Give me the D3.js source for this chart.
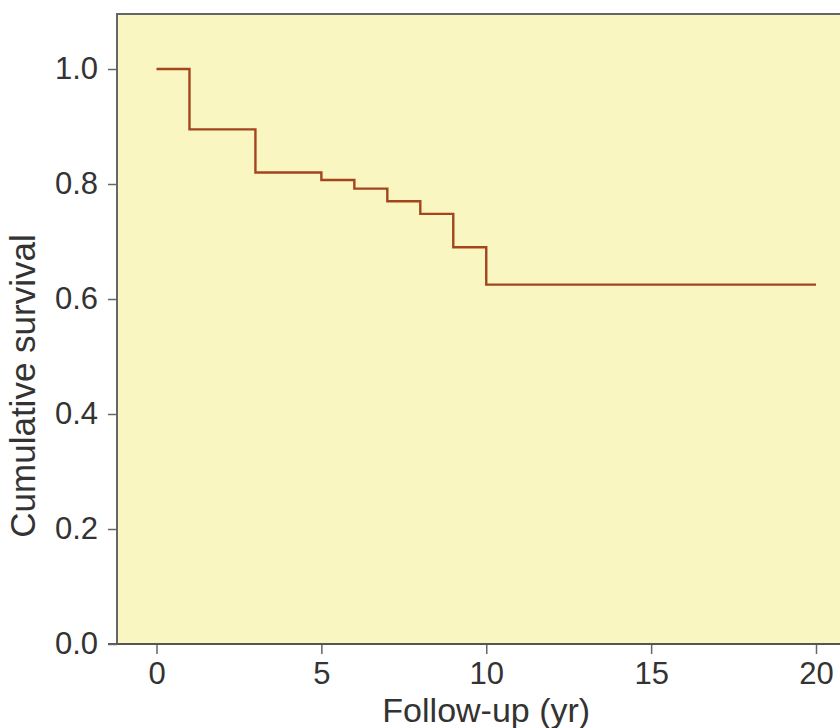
<!DOCTYPE html>
<html>
<head>
<meta charset="utf-8">
<script src="https://cdn.jsdelivr.net/npm/d3@7"></script>
<style>
  body { margin: 0; background: #fff; }
  text { font-family: "Liberation Sans", Arial, sans-serif; fill: #333; }
</style>
</head>
<body>
<div id="chart-container"></div>
<script>
// Kaplan-Meier step points (time in years, cumulative survival)
const stepTimes = [0, 1, 3, 5, 6, 7, 8, 9, 10, 20];
const stepSurvival = [1.0, 0.895, 0.820, 0.807, 0.792, 0.770, 0.748, 0.690, 0.625, 0.625];
const xTicks = [0, 5, 10, 15, 20];
const yTicks = [0.0, 0.2, 0.4, 0.6, 0.8, 1.0];

const svgWidth = 840;
const svgHeight = 728;

const svg = d3.select("#chart-container")
    .append("svg")
    .attr("width", svgWidth)
    .attr("height", svgHeight);

const scaleX = d3.scaleLinear().domain([0, 20]).range([156.5, 816]);
const scaleY = d3.scaleLinear().domain([0, 1]).range([644, 69]);

const plotLeft = 117, plotTop = 14, plotBottom = 644;

// plot background
svg.append("rect")
    .attr("x", plotLeft)
    .attr("y", plotTop)
    .attr("width", svgWidth - plotLeft)
    .attr("height", plotBottom - plotTop)
    .attr("fill", "#faf6c1");

// frame (top + left)
svg.append("path")
    .attr("d", `M${svgWidth},${plotTop}H${plotLeft}V${plotBottom}`)
    .attr("fill", "none")
    .attr("stroke", "#666")
    .attr("stroke-width", 2);

// x axis
const xAxis = svg.append("g")
    .attr("transform", `translate(0,${plotBottom})`)
    .call(d3.axisBottom(scaleX).tickValues(xTicks).tickSize(10).tickPadding(8).tickFormat(d3.format("d")));
xAxis.attr("font-size", 31).attr("font-family", null);
xAxis.select(".domain").remove();
xAxis.append("line")
    .attr("x1", 108).attr("x2", svgWidth)
    .attr("stroke", "#555").attr("stroke-width", 2);
xAxis.selectAll(".tick line").attr("stroke", "#666").attr("stroke-width", 1.5);
xAxis.selectAll(".tick text").attr("fill", "#333");

// y axis
const yAxis = svg.append("g")
    .attr("transform", `translate(${plotLeft},0)`)
    .call(d3.axisLeft(scaleY).tickValues(yTicks).tickSize(9).tickPadding(10).tickFormat(d3.format(".1f")));
yAxis.attr("font-size", 31).attr("font-family", null);
yAxis.select(".domain").remove();
yAxis.selectAll(".tick line").attr("stroke", "#666").attr("stroke-width", 1.5);
yAxis.selectAll(".tick text").attr("fill", "#333");

// axis titles
svg.append("text")
    .attr("x", scaleX(10))
    .attr("y", 722)
    .attr("text-anchor", "middle")
    .attr("font-size", "34px")
    .text("Follow-up (yr)");

svg.append("text")
    .attr("transform", "rotate(-90)")
    .attr("x", -386)
    .attr("y", 35)
    .attr("text-anchor", "middle")
    .attr("font-size", "35px")
    .text("Cumulative survival");

// survival curve
const km = stepTimes.map((t, i) => [t, stepSurvival[i]]);
const line = d3.line()
    .x(d => scaleX(d[0]))
    .y(d => scaleY(d[1]))
    .curve(d3.curveStepAfter);

svg.append("path")
    .datum(km)
    .attr("d", line)
    .attr("fill", "none")
    .attr("stroke", "#a3461e")
    .attr("stroke-width", 2.4);
</script>
</body>
</html>
